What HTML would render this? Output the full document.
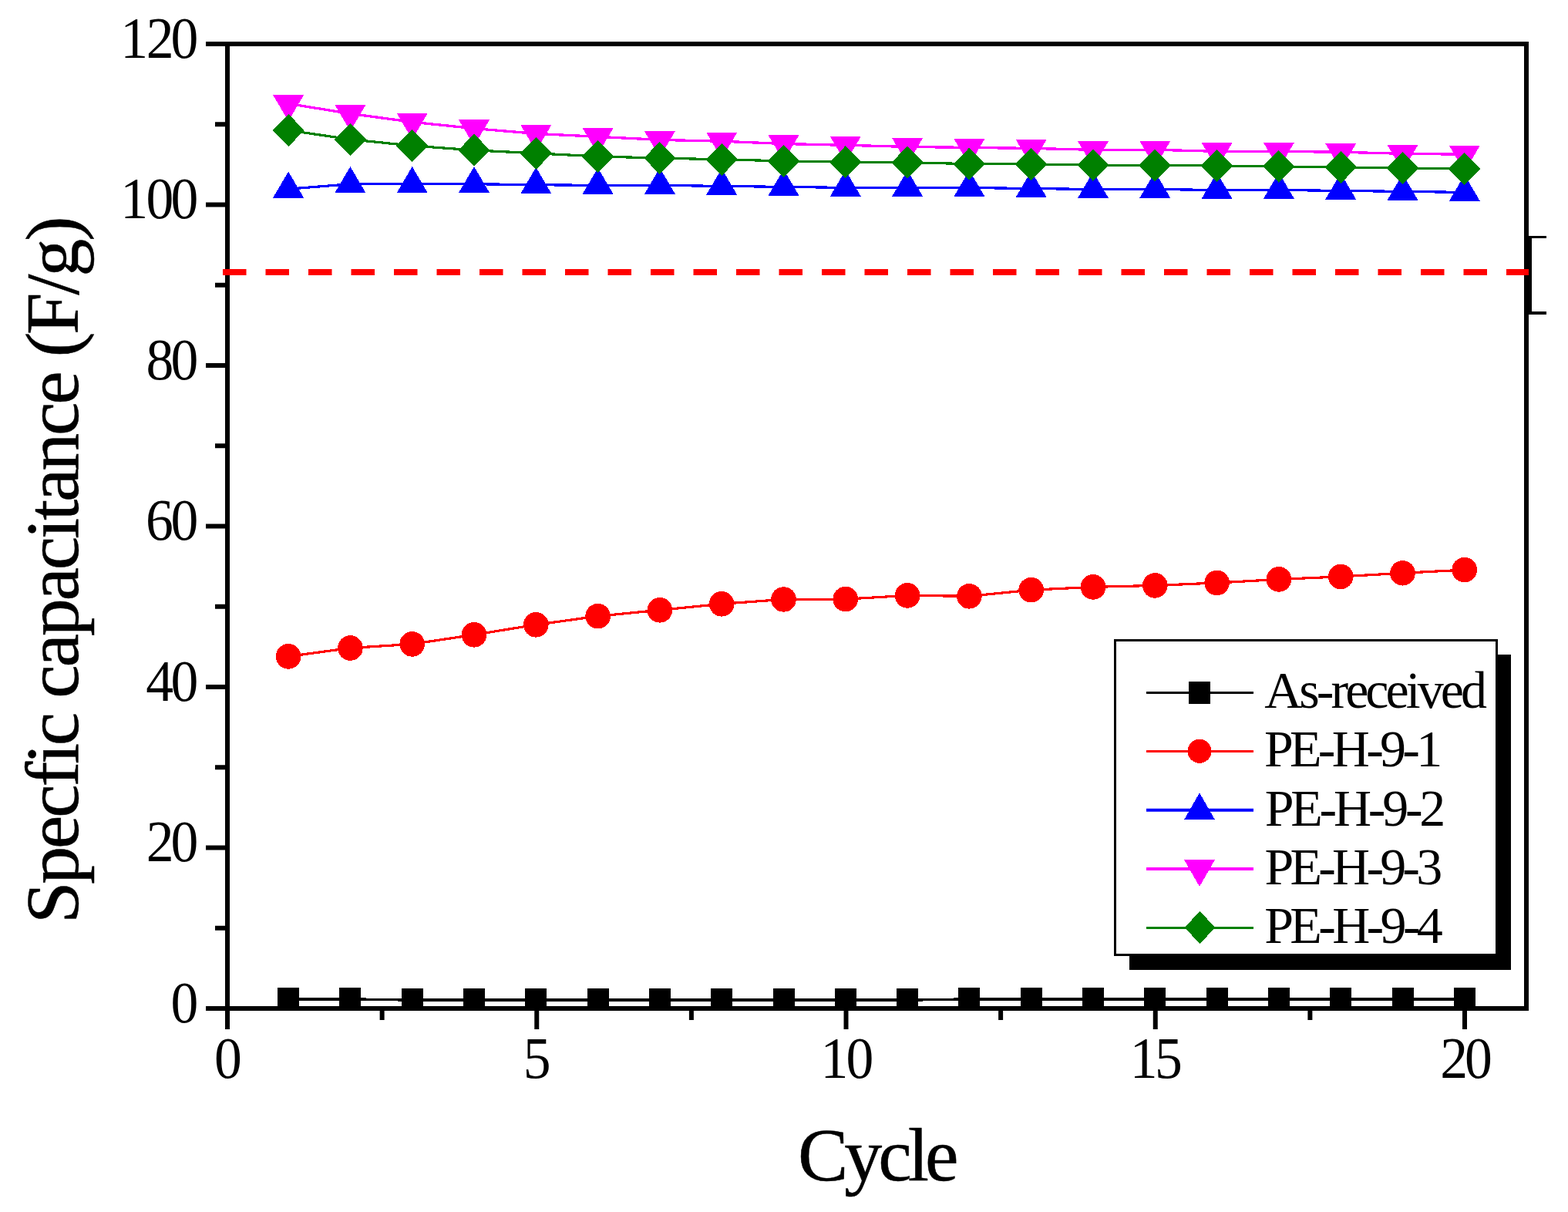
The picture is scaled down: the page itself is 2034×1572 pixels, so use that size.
<!DOCTYPE html><html><head><meta charset="utf-8"><title>Specific capacitance vs cycle</title><style>html,body{margin:0;padding:0;background:#fff;width:2034px;height:1572px;overflow:hidden}svg{display:block}polygon,circle,polyline,rect{shape-rendering:crispEdges}text{font-family:"Liberation Serif","Times New Roman",serif;fill:#000;font-kerning:none}</style></head><body>
<svg width="2034" height="1572" viewBox="0 0 2034 1572">
<rect width="2034" height="1572" fill="#fff"/>
<g stroke="#000" stroke-width="6" fill="none" stroke-linecap="butt">
<line x1="292" y1="57" x2="1983" y2="57"/>
<line x1="292" y1="1308" x2="1983" y2="1308"/>
<line x1="295" y1="54" x2="295" y2="1311"/>
<line x1="1980" y1="54" x2="1980" y2="1311"/>
<line x1="267" y1="1308" x2="295" y2="1308"/>
<line x1="267" y1="1099.5" x2="295" y2="1099.5"/>
<line x1="267" y1="891" x2="295" y2="891"/>
<line x1="267" y1="682.5" x2="295" y2="682.5"/>
<line x1="267" y1="474" x2="295" y2="474"/>
<line x1="267" y1="265.5" x2="295" y2="265.5"/>
<line x1="267" y1="57" x2="295" y2="57"/>
<line x1="279" y1="1203.75" x2="295" y2="1203.75"/>
<line x1="279" y1="995.25" x2="295" y2="995.25"/>
<line x1="279" y1="786.75" x2="295" y2="786.75"/>
<line x1="279" y1="578.25" x2="295" y2="578.25"/>
<line x1="279" y1="369.75" x2="295" y2="369.75"/>
<line x1="279" y1="161.25" x2="295" y2="161.25"/>
<line x1="295" y1="1308" x2="295" y2="1335"/>
<line x1="696.25" y1="1308" x2="696.25" y2="1335"/>
<line x1="1097.5" y1="1308" x2="1097.5" y2="1335"/>
<line x1="1498.75" y1="1308" x2="1498.75" y2="1335"/>
<line x1="1900" y1="1308" x2="1900" y2="1335"/>
<line x1="495.62" y1="1308" x2="495.62" y2="1323"/>
<line x1="896.88" y1="1308" x2="896.88" y2="1323"/>
<line x1="1298.12" y1="1308" x2="1298.12" y2="1323"/>
<line x1="1699.38" y1="1308" x2="1699.38" y2="1323"/>
</g>
<line x1="289" y1="353" x2="1983" y2="353" stroke="#ff0000" stroke-width="8" stroke-dasharray="30.5 25"/>
<g fill="#000"><rect x="1983" y="306" width="4" height="102"/><rect x="1983" y="306" width="23" height="3"/><rect x="1983" y="404" width="23" height="4"/></g>
<polyline points="374.1,1296 454.4,1296 534.7,1297 615,1297 695.3,1297 775.6,1297 855.9,1297 936.2,1297 1016.5,1297 1096.8,1297 1177.1,1297 1257.4,1296 1337.7,1296 1418,1296 1498.3,1296 1578.6,1296 1658.9,1296 1739.2,1296 1819.5,1296 1899.8,1296" fill="none" stroke="#000" stroke-width="3.5" stroke-linejoin="round"/>
<g fill="#000"><rect x="360.1" y="1281" width="28" height="28"/><rect x="440.4" y="1281" width="28" height="28"/><rect x="520.7" y="1282" width="28" height="28"/><rect x="601" y="1282" width="28" height="28"/><rect x="681.3" y="1282" width="28" height="28"/><rect x="761.6" y="1282" width="28" height="28"/><rect x="841.9" y="1282" width="28" height="28"/><rect x="922.2" y="1282" width="28" height="28"/><rect x="1002.5" y="1282" width="28" height="28"/><rect x="1082.8" y="1282" width="28" height="28"/><rect x="1163.1" y="1282" width="28" height="28"/><rect x="1243.4" y="1281" width="28" height="28"/><rect x="1323.7" y="1281" width="28" height="28"/><rect x="1404" y="1281" width="28" height="28"/><rect x="1484.3" y="1281" width="28" height="28"/><rect x="1564.6" y="1281" width="28" height="28"/><rect x="1644.9" y="1281" width="28" height="28"/><rect x="1725.2" y="1281" width="28" height="28"/><rect x="1805.5" y="1281" width="28" height="28"/><rect x="1885.8" y="1281" width="28" height="28"/></g>
<polyline points="374.1,851.4 454.4,840.5 534.7,835.4 615,823.3 695.3,810.3 775.6,799.2 855.9,791.3 936.2,783.3 1016.5,777.4 1096.8,777.1 1177.1,772.4 1257.4,773.3 1337.7,765.2 1418,761.4 1498.3,759.4 1578.6,756 1658.9,751.4 1739.2,747.9 1819.5,743.3 1899.8,739.1" fill="none" stroke="#ff0000" stroke-width="3.2" stroke-linejoin="round"/>
<g fill="#ff0000"><circle cx="374.1" cy="851.4" r="16.3"/><circle cx="454.4" cy="840.5" r="16.3"/><circle cx="534.7" cy="835.4" r="16.3"/><circle cx="615" cy="823.3" r="16.3"/><circle cx="695.3" cy="810.3" r="16.3"/><circle cx="775.6" cy="799.2" r="16.3"/><circle cx="855.9" cy="791.3" r="16.3"/><circle cx="936.2" cy="783.3" r="16.3"/><circle cx="1016.5" cy="777.4" r="16.3"/><circle cx="1096.8" cy="777.1" r="16.3"/><circle cx="1177.1" cy="772.4" r="16.3"/><circle cx="1257.4" cy="773.3" r="16.3"/><circle cx="1337.7" cy="765.2" r="16.3"/><circle cx="1418" cy="761.4" r="16.3"/><circle cx="1498.3" cy="759.4" r="16.3"/><circle cx="1578.6" cy="756" r="16.3"/><circle cx="1658.9" cy="751.4" r="16.3"/><circle cx="1739.2" cy="747.9" r="16.3"/><circle cx="1819.5" cy="743.3" r="16.3"/><circle cx="1899.8" cy="739.1" r="16.3"/></g>
<polyline points="374.1,245.2 454.4,238.7 534.7,238.7 615,238.7 695.3,239.7 775.6,240.4 855.9,240.4 936.2,241.4 1016.5,242.4 1096.8,243.4 1177.1,243.5 1257.4,243.5 1337.7,244.5 1418,245.5 1498.3,245.5 1578.6,246.5 1658.9,246.5 1739.2,247.4 1819.5,248.4 1899.8,249.4" fill="none" stroke="#0000ff" stroke-width="3.2" stroke-linejoin="round"/>
<g fill="#0000ff"><polygon points="374.1,222.53 394.1,256.53 354.1,256.53"/><polygon points="454.4,216.03 474.4,250.03 434.4,250.03"/><polygon points="534.7,216.03 554.7,250.03 514.7,250.03"/><polygon points="615,216.03 635,250.03 595,250.03"/><polygon points="695.3,217.03 715.3,251.03 675.3,251.03"/><polygon points="775.6,217.73 795.6,251.73 755.6,251.73"/><polygon points="855.9,217.73 875.9,251.73 835.9,251.73"/><polygon points="936.2,218.73 956.2,252.73 916.2,252.73"/><polygon points="1016.5,219.73 1036.5,253.73 996.5,253.73"/><polygon points="1096.8,220.73 1116.8,254.73 1076.8,254.73"/><polygon points="1177.1,220.83 1197.1,254.83 1157.1,254.83"/><polygon points="1257.4,220.83 1277.4,254.83 1237.4,254.83"/><polygon points="1337.7,221.83 1357.7,255.83 1317.7,255.83"/><polygon points="1418,222.83 1438,256.83 1398,256.83"/><polygon points="1498.3,222.83 1518.3,256.83 1478.3,256.83"/><polygon points="1578.6,223.83 1598.6,257.83 1558.6,257.83"/><polygon points="1658.9,223.83 1678.9,257.83 1638.9,257.83"/><polygon points="1739.2,224.73 1759.2,258.73 1719.2,258.73"/><polygon points="1819.5,225.73 1839.5,259.73 1799.5,259.73"/><polygon points="1899.8,226.73 1919.8,260.73 1879.8,260.73"/></g>
<polyline points="374.1,134.5 454.4,147.4 534.7,158.3 615,166.6 695.3,173.4 775.6,177.3 855.9,181.4 936.2,183.2 1016.5,186.5 1096.8,188.3 1177.1,190.4 1257.4,191.4 1337.7,192.4 1418,194.3 1498.3,194.3 1578.6,196.3 1658.9,196.3 1739.2,197.3 1819.5,199.3 1899.8,200.2" fill="none" stroke="#ff00ff" stroke-width="3.3" stroke-linejoin="round"/>
<g fill="#ff00ff"><polygon points="354.1,123.17 394.1,123.17 374.1,157.17"/><polygon points="434.4,136.07 474.4,136.07 454.4,170.07"/><polygon points="514.7,146.97 554.7,146.97 534.7,180.97"/><polygon points="595,155.27 635,155.27 615,189.27"/><polygon points="675.3,162.07 715.3,162.07 695.3,196.07"/><polygon points="755.6,165.97 795.6,165.97 775.6,199.97"/><polygon points="835.9,170.07 875.9,170.07 855.9,204.07"/><polygon points="916.2,171.87 956.2,171.87 936.2,205.87"/><polygon points="996.5,175.17 1036.5,175.17 1016.5,209.17"/><polygon points="1076.8,176.97 1116.8,176.97 1096.8,210.97"/><polygon points="1157.1,179.07 1197.1,179.07 1177.1,213.07"/><polygon points="1237.4,180.07 1277.4,180.07 1257.4,214.07"/><polygon points="1317.7,181.07 1357.7,181.07 1337.7,215.07"/><polygon points="1398,182.97 1438,182.97 1418,216.97"/><polygon points="1478.3,182.97 1518.3,182.97 1498.3,216.97"/><polygon points="1558.6,184.97 1598.6,184.97 1578.6,218.97"/><polygon points="1638.9,184.97 1678.9,184.97 1658.9,218.97"/><polygon points="1719.2,185.97 1759.2,185.97 1739.2,219.97"/><polygon points="1799.5,187.97 1839.5,187.97 1819.5,221.97"/><polygon points="1879.8,188.87 1919.8,188.87 1899.8,222.87"/></g>
<polyline points="374.1,169 454.4,180.8 534.7,189 615,194.9 695.3,198.8 775.6,203 855.9,205 936.2,206.9 1016.5,208.8 1096.8,210.2 1177.1,210.8 1257.4,212.6 1337.7,213 1418,214 1498.3,214.5 1578.6,214.9 1658.9,215.9 1739.2,216.9 1819.5,217.9 1899.8,219" fill="none" stroke="#008000" stroke-width="3.2" stroke-linejoin="round"/>
<g fill="#008000"><polygon points="374.1,148 394.9,169 374.1,190 353.3,169"/><polygon points="454.4,159.8 475.2,180.8 454.4,201.8 433.6,180.8"/><polygon points="534.7,168 555.5,189 534.7,210 513.9,189"/><polygon points="615,173.9 635.8,194.9 615,215.9 594.2,194.9"/><polygon points="695.3,177.8 716.1,198.8 695.3,219.8 674.5,198.8"/><polygon points="775.6,182 796.4,203 775.6,224 754.8,203"/><polygon points="855.9,184 876.7,205 855.9,226 835.1,205"/><polygon points="936.2,185.9 957,206.9 936.2,227.9 915.4,206.9"/><polygon points="1016.5,187.8 1037.3,208.8 1016.5,229.8 995.7,208.8"/><polygon points="1096.8,189.2 1117.6,210.2 1096.8,231.2 1076,210.2"/><polygon points="1177.1,189.8 1197.9,210.8 1177.1,231.8 1156.3,210.8"/><polygon points="1257.4,191.6 1278.2,212.6 1257.4,233.6 1236.6,212.6"/><polygon points="1337.7,192 1358.5,213 1337.7,234 1316.9,213"/><polygon points="1418,193 1438.8,214 1418,235 1397.2,214"/><polygon points="1498.3,193.5 1519.1,214.5 1498.3,235.5 1477.5,214.5"/><polygon points="1578.6,193.9 1599.4,214.9 1578.6,235.9 1557.8,214.9"/><polygon points="1658.9,194.9 1679.7,215.9 1658.9,236.9 1638.1,215.9"/><polygon points="1739.2,195.9 1760,216.9 1739.2,237.9 1718.4,216.9"/><polygon points="1819.5,196.9 1840.3,217.9 1819.5,238.9 1798.7,217.9"/><polygon points="1899.8,198 1920.6,219 1899.8,240 1879,219"/></g>
<rect x="1465" y="849" width="495" height="409" fill="#000"/>
<rect x="1446.5" y="830.5" width="495" height="408" fill="#fff" stroke="#000" stroke-width="3"/>
<line x1="1487" y1="898.5" x2="1626" y2="898.5" stroke="#000" stroke-width="3"/>
<line x1="1487" y1="974.5" x2="1626" y2="974.5" stroke="#ff0000" stroke-width="3"/>
<line x1="1487" y1="1050.8" x2="1626" y2="1050.8" stroke="#0000ff" stroke-width="4"/>
<line x1="1487" y1="1127" x2="1626" y2="1127" stroke="#ff00ff" stroke-width="4"/>
<line x1="1487" y1="1203.5" x2="1626" y2="1203.5" stroke="#008000" stroke-width="3"/>
<rect x="1542" y="884" width="28" height="29" fill="#000"/>
<circle cx="1556" cy="974.3" r="15.5" fill="#ff0000"/>
<g fill="#0000ff"><polygon points="1556,1028.17 1576,1063.17 1536,1063.17"/></g>
<g fill="#ff00ff"><polygon points="1536,1114.93 1576,1114.93 1556,1149.93"/></g>
<g fill="#008000"><polygon points="1556.5,1182 1576.5,1203 1556.5,1224 1536.5,1203"/></g>
<text x="233.23" y="1325.60" font-size="75.5" stroke="#000" stroke-width="0" transform="scale(0.95 1)">0</text>
<text x="199.86 233.23" y="1117.10" font-size="75.5" stroke="#000" stroke-width="0" transform="scale(0.95 1)">20</text>
<text x="199.29 233.23" y="908.60" font-size="75.5" stroke="#000" stroke-width="0" transform="scale(0.95 1)">40</text>
<text x="198.94 233.23" y="700.10" font-size="75.5" stroke="#000" stroke-width="0" transform="scale(0.95 1)">60</text>
<text x="199.44 233.23" y="491.60" font-size="75.5" stroke="#000" stroke-width="0" transform="scale(0.95 1)">80</text>
<text x="164.60 199.44 233.23" y="283.10" font-size="75.5" stroke="#000" stroke-width="0" transform="scale(0.95 1)">100</text>
<text x="164.60 199.86 233.23" y="74.60" font-size="75.5" stroke="#000" stroke-width="0" transform="scale(0.95 1)">120</text>
<text x="292.70" y="1398.00" font-size="75.5" stroke="#000" stroke-width="0" transform="scale(0.95 1)">0</text>
<text x="714.35" y="1398.00" font-size="75.5" stroke="#000" stroke-width="0" transform="scale(0.95 1)">5</text>
<text x="1120.50 1155.23" y="1398.00" font-size="75.5" stroke="#000" stroke-width="0" transform="scale(0.95 1)">10</text>
<text x="1542.86 1576.88" y="1398.00" font-size="75.5" stroke="#000" stroke-width="0" transform="scale(0.95 1)">15</text>
<text x="1966.71 1999.97" y="1398.00" font-size="75.5" stroke="#000" stroke-width="0" transform="scale(0.95 1)">20</text>
<text x="0" y="0" font-size="98" letter-spacing="-5.03" stroke="#000" stroke-width="0.5" transform="translate(1034.95 1530.85)">Cycle</text>
<text x="0" y="0" font-size="98" letter-spacing="-3.26" stroke="#000" stroke-width="0.5" transform="translate(101.45 1197.95) rotate(-90)">Specfic capacitance (F/g)</text>
<text x="0" y="0" font-size="68" letter-spacing="-3.97" stroke="#000" stroke-width="0" transform="translate(1640.15 918.30)">As-received</text>
<text x="0" y="0" font-size="68" letter-spacing="-4.73" stroke="#000" stroke-width="0" transform="translate(1639.95 993.50)">PE-H-9-1</text>
<text x="0" y="0" font-size="68" letter-spacing="-4.24" stroke="#000" stroke-width="0" transform="translate(1640.65 1070.80)">PE-H-9-2</text>
<text x="0" y="0" font-size="68" letter-spacing="-4.83" stroke="#000" stroke-width="0" transform="translate(1640.60 1146.60)">PE-H-9-3</text>
<text x="0" y="0" font-size="68" letter-spacing="-4.67" stroke="#000" stroke-width="0" transform="translate(1640.15 1223.05)">PE-H-9-4</text>
</svg></body></html>
